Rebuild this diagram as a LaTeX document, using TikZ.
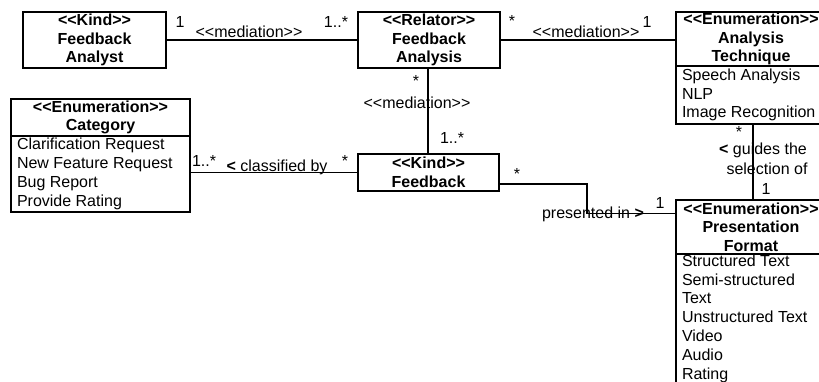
\documentclass[tikz,border=0pt]{standalone}
\usepackage{fontspec}
\setmainfont{Liberation Sans}[Ligatures=TeXOff]
\begin{document}
\begin{tikzpicture}[x=1pt,y=-1pt,
  every node/.style={font=\fontsize{16pt}{18.8pt}\selectfont, inner sep=0pt, outer sep=0pt},
  cls/.style={draw, line width=1.2pt, anchor=north west, align=center,
              font=\fontsize{16pt}{18.5pt}\selectfont\bfseries},
  items/.style={draw, line width=1.2pt, anchor=north west, align=flush left,
                inner xsep=6pt, inner ysep=0pt},
  lbl/.style={anchor=base},
  assoc/.style={line width=1.2pt}]
\useasboundingbox (0,0) rectangle (819,381);

% classes
\node[cls, minimum width=143pt, minimum height=56pt] (analyst) at (23,12)
  {<<Kind>>\\Feedback\\Analyst};
\node[cls, minimum width=142pt, minimum height=56pt] (analysis) at (358,12)
  {<<Relator>>\\Feedback\\Analysis};
\node[cls, minimum width=150pt, minimum height=54pt] (techhead) at (676,12)
  {<<Enumeration>>\\Analysis\\Technique};
\node[items, text width=138pt, minimum height=58pt] (techbody) at (676,66)
  {Speech Analysis\\NLP\\Image Recognition};
\node[cls, minimum width=179pt, minimum height=37pt] (cathead) at (11,99)
  {<<Enumeration>>\\Category};
\node[items, text width=167pt, minimum height=76pt] (catbody) at (11,136)
  {Clarification Request\\New Feature Request\\Bug Report\\Provide Rating};
\node[cls, minimum width=141pt, minimum height=37pt] (feedback) at (358,154)
  {<<Kind>>\\Feedback};
\node[cls, minimum width=150pt, minimum height=54pt] (prhead) at (676,200)
  {<<Enumeration>>\\Presentation\\Format};
\node[items, text width=138pt, minimum height=129pt] (prbody) at (676,254)
  {Structured Text\\Semi-structured\\Text\\Unstructured Text\\Video\\Audio\\Rating};

% associations
\coordinate (vm) at (428,0);
\coordinate (vg) at (753,0);
\coordinate (p1) at (587,184);
\coordinate (p2) at (587,213.5);
\draw[assoc] (analyst.east) -- (analysis.west);
\draw[assoc] (analysis.east) -- (analysis.east -| techhead.west);
\draw[assoc] (analysis.south -| vm) -- (feedback.north -| vm);
\draw[assoc] (feedback.west) -- (feedback.west -| catbody.east);
\draw[assoc] (feedback.east |- p1) -- (p1) -- (p2) -- (p2 -| prhead.west);
\draw[assoc] (techbody.south -| vg) -- (prhead.north -| vg);

% multiplicities and role labels
\node[lbl] (m1) at (180,27.5) {1};
\node[lbl] (m2) at (249,37.5) {<<mediation>>};
\node[lbl] (m3) at (336,27.5) {1..*};
\node[lbl] (m4) at (512,26) {*};
\node[lbl] (m5) at (586,37.5) {<<mediation>>};
\node[lbl] (m6) at (647,27.5) {1};
\node[lbl] (m7) at (416,86) {*};
\node[lbl] (m8) at (417,108.5) {<<mediation>>};
\node[lbl, anchor=base west] (m9) at (440,143.5) {1..*};
\node[lbl, anchor=base west] (c1) at (192,166.5) {1..*};
\node[lbl] (c2) at (277,171) {{\bfseries <} classified by};
\node[lbl] (c3) at (345,166) {*};
\node[lbl] (f1) at (517,179) {*};
\node[lbl] (f2) at (593,218.5) {presented in {\bfseries >}};
\node[lbl] (f3) at (660,208.5) {1};
\node[lbl] (g1) at (739,137) {*};
\node[lbl] (g2) at (763,154.5) {{\bfseries <} guides the};
\node[lbl] (g3) at (767,174) {selection of};
\node[lbl] (g4) at (766,194.5) {1};
\end{tikzpicture}
\end{document}
